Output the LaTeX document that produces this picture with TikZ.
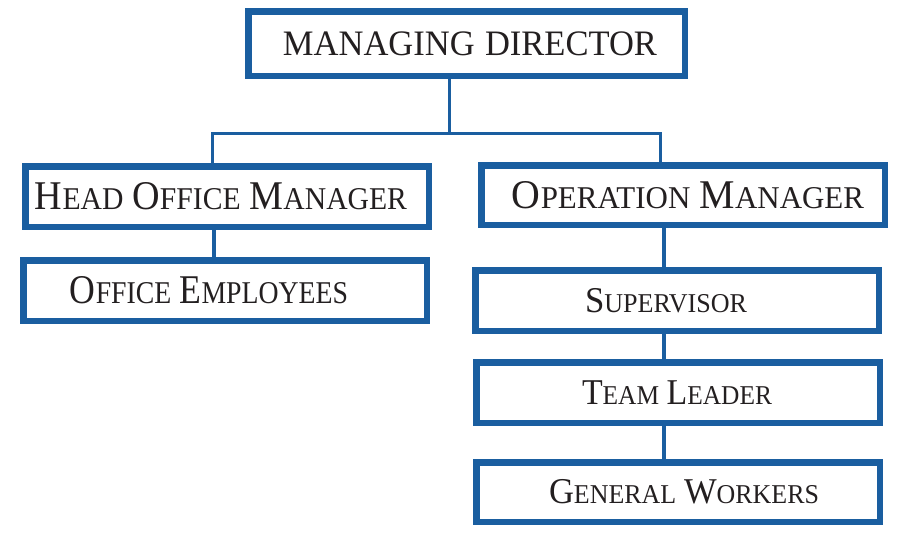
\documentclass[tikz,border=0pt]{standalone}
\usepackage{fontspec}
\setmainfont{Liberation Serif}
\usepackage{graphicx}
\definecolor{boxblue}{RGB}{26,94,160}
\definecolor{ink}{RGB}{35,31,32}
% fitted text: #1 shift of centre, #2 width, #3 content
\newcommand\fittxt[3]{\hspace*{#1}\resizebox{#2}{\height}{#3}\hspace*{-#1}}
\newcommand\BigA{\fontsize{40.8}{42}\selectfont}
\newcommand\SmlA{\fontsize{31.7}{33}\selectfont}
\newcommand\BigB{\fontsize{36.3}{38}\selectfont}
\newcommand\SmlB{\fontsize{27.2}{29}\selectfont}
\newcommand\TopF{\fontsize{35.8}{37}\selectfont}
\newcommand\gap{\hspace*{0.3em}}
\begin{document}
\begin{tikzpicture}[x=1pt,y=-1pt,
  orgbox/.style={draw=boxblue,line width=6.5pt,fill=white,rectangle,inner sep=0pt,
    minimum width=403.5pt,minimum height=60.5pt,text=ink},
  link/.style={draw=boxblue,line width=3.3pt},
  thicklink/.style={draw=boxblue,line width=4.3pt}]
\useasboundingbox (0,0) rectangle (902,544);

\node[orgbox,minimum width=436.5pt,minimum height=64.5pt] (MD) at (466.5,43.5)
  {\fittxt{3.5pt}{374pt}{\TopF MANAGING\gap DIRECTOR}};
\node[orgbox] (HOM) at (227,196.5)
  {\fittxt{-6pt}{372pt}{{\BigA H}{\SmlA EAD\gap}{\BigA O}{\SmlA FFICE\gap}{\BigA M}{\SmlA ANAGER}}};
\node[orgbox] (OE) at (225,290.5)
  {\fittxt{-16pt}{278pt}{{\BigA O}{\SmlA FFICE\gap}{\BigA E}{\SmlA MPLOYEES}}};
\node[orgbox,minimum height=59.5pt] (OM) at (683,195)
  {\fittxt{5pt}{352pt}{{\BigA O}{\SmlA PERATION\gap}{\BigA M}{\SmlA ANAGER}}};
\node[orgbox] (SUP) at (677,300.5)
  {\fittxt{-11pt}{162pt}{{\BigB S}{\SmlB UPERVISOR}}};
\node[orgbox] (TL) at (678,392.5)
  {\fittxt{-1pt}{190pt}{{\BigB T}{\SmlB EAM\gap}{\BigB L}{\SmlB EADER}}};
\node[orgbox,minimum height=59.5pt] (GW) at (678,492)
  {\fittxt{6pt}{270pt}{{\BigB G}{\SmlB ENERAL\gap}{\BigB W}{\SmlB ORKERS}}};

\coordinate (j) at (449,133);
\coordinate (hl) at (212,133);
\coordinate (ol) at (660,133);
\coordinate (lc) at (214,0);
\coordinate (rc) at (664,0);

\draw[link,line width=3pt] (MD.south -| j) -- (j);
\draw[link,line width=3pt] (HOM.north -| hl) |- (j) -| (OM.north -| ol);
\draw[link] (HOM.south -| lc) -- (OE.north -| lc);
\draw[thicklink] (OM.south -| rc) -- (SUP.north -| rc);
\draw[thicklink] (SUP.south -| rc) -- (TL.north -| rc);
\draw[thicklink] (TL.south -| rc) -- (GW.north -| rc);
\end{tikzpicture}
\end{document}
